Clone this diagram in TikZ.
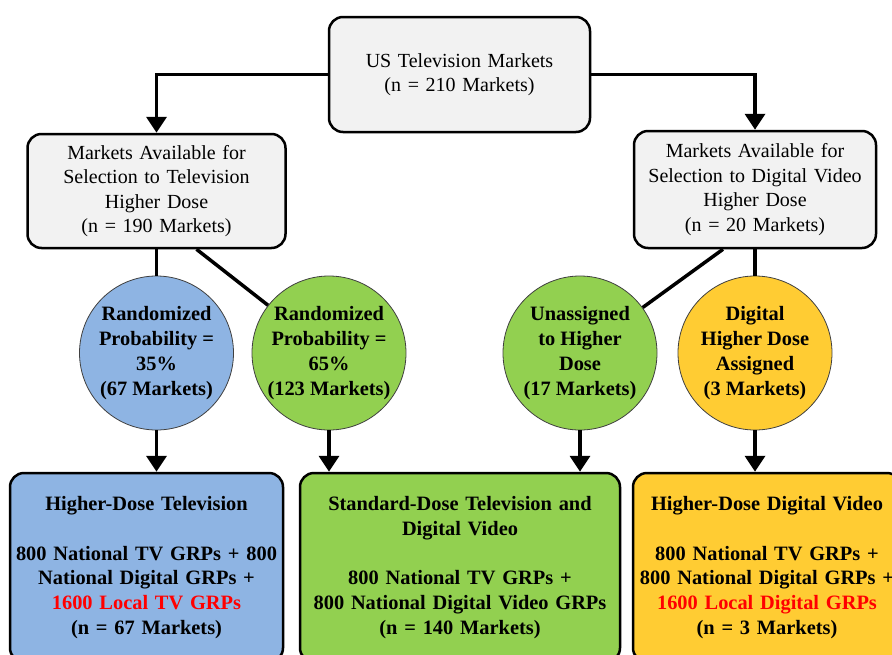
\documentclass[tikz,border=0pt]{standalone}
\usepackage{fontspec}
\setmainfont{Liberation Serif}
\usepackage{tikz}
\usetikzlibrary{shapes,arrows.meta}
\definecolor{poolgray}{HTML}{F2F2F2}
\definecolor{tvblue}{HTML}{8EB4E3}
\definecolor{mixgreen}{HTML}{92D050}
\definecolor{dvgold}{HTML}{FFCC33}
\definecolor{rimgray}{HTML}{404040}
\newcommand{\poolfont}{\fontsize{20}{24.5}\selectfont}
\newcommand{\armfont}{\fontsize{20.4}{24.8}\selectfont\bfseries}
\tikzstyle{pool} = [rectangle, draw, line width=2.5pt, rounded corners=14pt, fill=poolgray, align=center, inner sep=0pt, font=\poolfont]
\tikzstyle{split} = [circle, draw=rimgray, line width=0.8pt, minimum size=154pt, inner sep=0pt, align=center, font=\armfont]
\tikzstyle{arm} = [rectangle, draw, line width=2.5pt, rounded corners=14pt, align=center, inner sep=0pt, minimum height=189pt, font=\armfont]
\tikzstyle{line} = [draw, line width=3.5pt]
\tikzstyle{arrow} = [line, -{Triangle[length=16pt,width=20pt]}]
\begin{document}
\begin{tikzpicture}[x=1pt, y=-1pt]
        \path [use as bounding box, clip] (0,0) rectangle (892,654);

        \node [pool, text width=261pt, minimum height=115pt] (usmkt) at (459.5,74.5) {US Television Markets\\(n = 210 Markets)};
        \node [pool, text width=258pt, minimum height=114pt] (tvpool) at (156.5,191) {Markets Available for\\Selection to Television\\Higher Dose\\(n = 190 Markets)};
        \node [pool, text width=242pt, minimum height=117pt] (dvpool) at (755,189.5) {Markets Available for\\Selection to Digital Video\\Higher Dose\\(n = 20 Markets)};

        \node [split, fill=tvblue] (rand35) at (156.5,353) {Randomized\\Probability =\\35\%\\(67 Markets)};
        \node [split, fill=mixgreen] (rand65) at (329,353) {Randomized\\Probability =\\65\%\\(123 Markets)};
        \node [split, fill=mixgreen] (unassigned) at (580,353) {Unassigned\\to Higher\\Dose\\(17 Markets)};
        \node [split, fill=dvgold] (dvassigned) at (755,353) {Digital\\Higher Dose\\Assigned\\(3 Markets)};

        \node [arm, fill=tvblue, text width=273pt] (hdtv) at (146.5,567.5) {Higher-Dose Television\\[24.8pt]800 National TV GRPs + 800\\National Digital GRPs +\\\textcolor{red}{1600 Local TV GRPs}\\(n = 67 Markets)};
        \node [arm, fill=mixgreen, text width=320pt] (stddose) at (460,567.5) {Standard-Dose Television and\\Digital Video\\[24.8pt]800 National TV GRPs +\\800 National Digital Video GRPs\\(n = 140 Markets)};
        \node [arm, fill=dvgold, text width=268pt] (hddv) at (767,567.5) {Higher-Dose Digital Video\\[24.8pt]800 National TV GRPs +\\800 National Digital GRPs +\\\textcolor{red}{1600 Local Digital GRPs}\\(n = 3 Markets)};

        \path [arrow] (usmkt.west) -| (tvpool.north);
        \path [arrow] (usmkt.east) -| (dvpool.north);
        \path [line] (tvpool) -- (rand35);
        \path [line] ([xshift=40pt]tvpool.south) -- (rand65);
        \path [line] ([xshift=-32pt]dvpool.south) -- (unassigned);
        \path [line] (dvpool) -- (dvassigned);
        \path [arrow] (rand35.south) -- (rand35.south |- hdtv.north);
        \path [arrow] (rand65.south) -- (rand65.south |- stddose.north);
        \path [arrow] (unassigned.south) -- (unassigned.south |- stddose.north);
        \path [arrow] (dvassigned.south) -- (dvassigned.south |- hddv.north);
      \end{tikzpicture}
\end{document}
